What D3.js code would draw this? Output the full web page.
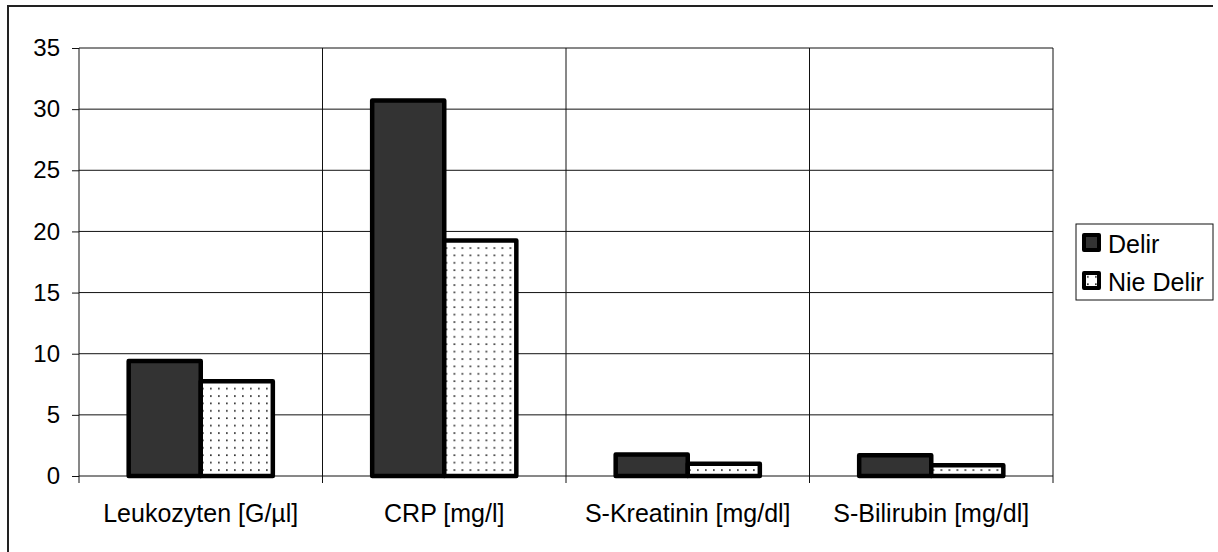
<!DOCTYPE html>
<html>
<head>
<meta charset="utf-8">
<script src="https://cdn.jsdelivr.net/npm/d3@7"></script>
<style>
  body { margin: 0; background: #fff; }
  svg { display: block; font-family: "Liberation Sans", Arial, sans-serif; }
</style>
</head>
<body>
<script>
//data
var categories = ["Leukozyten [G/µl]", "CRP [mg/l]", "S-Kreatinin [mg/dl]", "S-Bilirubin [mg/dl]"];
var series = ["Delir", "Nie Delir"];
var delir = [9.4, 30.7, 1.75, 1.7];
var nieDelir = [7.75, 19.25, 1.0, 0.87];
var yTicks = [0, 5, 10, 15, 20, 25, 30, 35];

window.onload = drawChart();

function drawChart(){

    var width = 1218,
        height = 552;

    var svg = d3.select("body")
        .append("svg")
        .attr("width", width)
        .attr("height", height);

    //dotted fill for "Nie Delir"
    var defs = svg.append("defs");
    var pat = defs.append("pattern")
        .attr("id", "dots")
        .attr("patternUnits", "userSpaceOnUse")
        .attr("width", 8)
        .attr("height", 7.4);
    pat.append("rect").attr("width", 8).attr("height", 7.4).attr("fill", "#fff");
    pat.append("rect").attr("x", 3).attr("y", 3).attr("width", 1.7).attr("height", 1.7).attr("fill", "#333");

    //outer frame (only left and top visible)
    svg.append("path")
        .attr("d", "M8,560 L8,6 L1213,6")
        .attr("fill", "none")
        .attr("stroke", "#222")
        .attr("stroke-width", 2);

    var left = 79, right = 1053, top = 48, bottom = 476;

    var x = d3.scaleBand()
        .domain(categories)
        .range([left, right])
        .padding(0);

    var y = d3.scaleLinear()
        .domain([0, 35])
        .range([bottom, top]);

    var bw = x.bandwidth();
    var xs = d3.scaleBand()
        .domain(series)
        .range([bw * 0.204, bw * 0.796])
        .padding(0);

    //horizontal gridlines
    svg.append("g")
        .selectAll("line")
        .data(yTicks.filter(function(d){ return d > 0; }))
        .join("line")
        .attr("x1", left).attr("x2", right)
        .attr("y1", function(d){ return y(d); })
        .attr("y2", function(d){ return y(d); })
        .attr("stroke", "#111")
        .attr("stroke-width", 1);

    //vertical gridlines at category boundaries
    svg.append("g")
        .selectAll("line")
        .data(categories.slice(1))
        .join("line")
        .attr("x1", function(d){ return x(d); })
        .attr("x2", function(d){ return x(d); })
        .attr("y1", top).attr("y2", bottom + 7)
        .attr("stroke", "#111")
        .attr("stroke-width", 1);
    svg.append("line")
        .attr("x1", right).attr("x2", right)
        .attr("y1", top).attr("y2", bottom + 7)
        .attr("stroke", "#111");

    //y axis
    var yAxis = svg.append("g")
        .attr("transform", "translate(" + left + ",0)")
        .call(d3.axisLeft(y).tickValues(yTicks).tickSize(7).tickPadding(12).tickSizeOuter(0));
    yAxis.select(".domain").remove();
    yAxis.append("line")
        .attr("x1", 0).attr("x2", 0)
        .attr("y1", top).attr("y2", bottom + 7)
        .attr("stroke", "#111");
    yAxis.selectAll(".tick line").attr("stroke", "#111");
    yAxis.selectAll("text")
        .attr("font-size", 24)
        .attr("fill", "#000")
        .style("font-family", "Liberation Sans, Arial, sans-serif");

    //x axis baseline
    svg.append("line")
        .attr("x1", left).attr("x2", right)
        .attr("y1", bottom).attr("y2", bottom)
        .attr("stroke", "#111");

    //category labels
    svg.append("g")
        .selectAll("text")
        .data(categories)
        .join("text")
        .attr("x", function(d){ return x(d) + bw / 2; })
        .attr("y", 522)
        .attr("text-anchor", "middle")
        .attr("font-size", 25)
        .text(function(d){ return d; });

    //bars
    var rows = categories.map(function(c, i){
        return [{cat: c, s: "Delir", v: delir[i]}, {cat: c, s: "Nie Delir", v: nieDelir[i]}];
    });

    svg.append("g")
        .selectAll("g")
        .data(rows)
        .join("g")
        .attr("transform", function(d){ return "translate(" + x(d[0].cat) + ",0)"; })
        .selectAll("rect")
        .data(function(d){ return d; })
        .join("rect")
        .attr("x", function(d){ return xs(d.s); })
        .attr("width", xs.bandwidth())
        .attr("y", function(d){ return y(d.v); })
        .attr("height", function(d){ return y(0) - y(d.v); })
        .attr("fill", function(d){ return d.s == "Delir" ? "#333" : "url(#dots)"; })
        .attr("stroke", "#000")
        .attr("stroke-width", 4.5)
        .attr("stroke-linejoin", "round");

    //legend
    var legend = svg.append("g");
    legend.append("rect")
        .attr("x", 1076).attr("y", 224)
        .attr("width", 137).attr("height", 76)
        .attr("fill", "#fff")
        .attr("stroke", "#111")
        .attr("stroke-width", 1);

    var item = legend.selectAll("g")
        .data(series)
        .join("g")
        .attr("transform", function(d, i){ return "translate(1084," + (235 + i * 38) + ")"; });
    item.append("rect")
        .attr("width", 15).attr("height", 15)
        .attr("fill", function(d){ return d == "Delir" ? "#333" : "url(#dots)"; })
        .attr("stroke", "#000")
        .attr("stroke-width", 4)
        .attr("stroke-linejoin", "round");
    item.append("text")
        .attr("x", 24).attr("y", 18)
        .attr("font-size", 25)
        .text(function(d){ return d; });
}
</script>
</body>
</html>
